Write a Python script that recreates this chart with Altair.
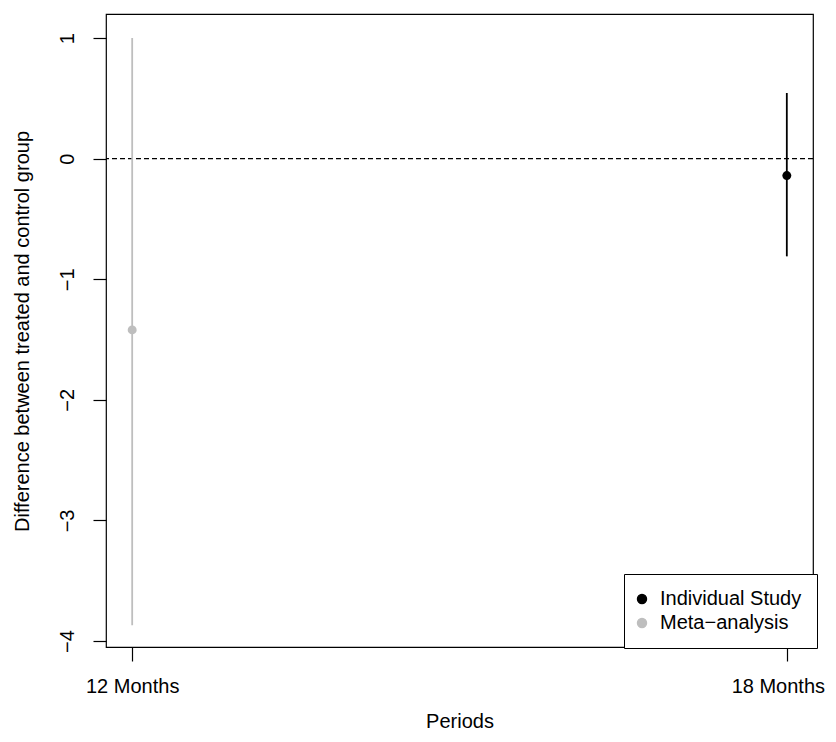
import altair as alt
import pandas as pd

# ---- data ----
periods = ["12 Months", "18 Months"]
series = ["Meta\u2212analysis", "Individual Study"]
estimates = [-1.42, -0.14]
lower = [-3.87, -0.81]
upper = [1.0, 0.545]

legend_order = ["Individual Study", "Meta\u2212analysis"]
legend_colors = ["#000000", "#BEBEBE"]
y_ticks = [-4, -3, -2, -1, 0, 1]
reference_line = [0]

FONT = "Liberation Sans"

df = pd.DataFrame({
    "period": periods,
    "series": series,
    "est": estimates,
    "lo": lower,
    "hi": upper,
})
ref_df = pd.DataFrame({"v": reference_line})

x_enc = alt.X(
    "period:N",
    sort=periods,
    scale=alt.Scale(type="point", padding=0.04),
    axis=alt.Axis(
        title="Periods", labelAngle=0, tickSize=14, labelPadding=31,
        labelBaseline="alphabetic", titleBaseline="alphabetic",
        titleY=80, titleFontWeight="normal",
        labelOffset={"condition": {"test": "datum.label == '18 Months'", "value": -9}, "value": 0},
    ),
)
y_scale = alt.Scale(domain=[-4.05, 1.2], nice=False, zero=False)
y_axis = alt.Axis(
    title="Difference between treated and control group",
    values=y_ticks, labelAngle=270, labelAlign="center",
    labelBaseline="alphabetic", tickSize=13, labelPadding=20,
    titleBaseline="alphabetic", titleX=-78, titleY=317,
    titleFontWeight="normal", format="d",
)
legend = alt.Legend(
    title=None, orient="none", legendX=518, legendY=560,
    symbolType="circle", symbolSize=80, labelFontSize=20,
    labelOffset=8, symbolOffset=-7, rowPadding=4, padding=15,
    strokeColor="black", fillColor="white", cornerRadius=0,
    labelFont=FONT, labelColor="black",
)
color_enc = alt.Color(
    "series:N",
    scale=alt.Scale(domain=legend_order, range=legend_colors),
    legend=legend,
)

bars = alt.Chart(df).mark_rule(strokeWidth=1.8).encode(
    x=x_enc,
    y=alt.Y("lo:Q", scale=y_scale, axis=y_axis),
    y2="hi:Q",
    color=color_enc,
)

pts = alt.Chart(df).mark_circle(size=80, opacity=1).encode(
    x=x_enc,
    y=alt.Y("est:Q", scale=y_scale),
    color=color_enc,
)

ref = alt.Chart(ref_df).mark_rule(color="black", strokeDash=[5, 3], strokeWidth=1.3).encode(
    y=alt.Y("v:Q", scale=y_scale)
)

chart = alt.layer(ref, bars, pts).properties(
    width=707,
    height=633,
    autosize=alt.AutoSizeParams(type="none"),
    padding={"left": 98, "top": 6, "right": 15, "bottom": 86},
).configure_view(
    stroke="black", strokeWidth=1.2
).configure_axis(
    domain=False, grid=False, tickColor="black", tickWidth=1.2,
    labelFont=FONT, titleFont=FONT, labelFontSize=20, titleFontSize=20,
    labelColor="black", titleColor="black",
)

chart.save("out.html", embed_options={"renderer": "svg", "actions": False})
